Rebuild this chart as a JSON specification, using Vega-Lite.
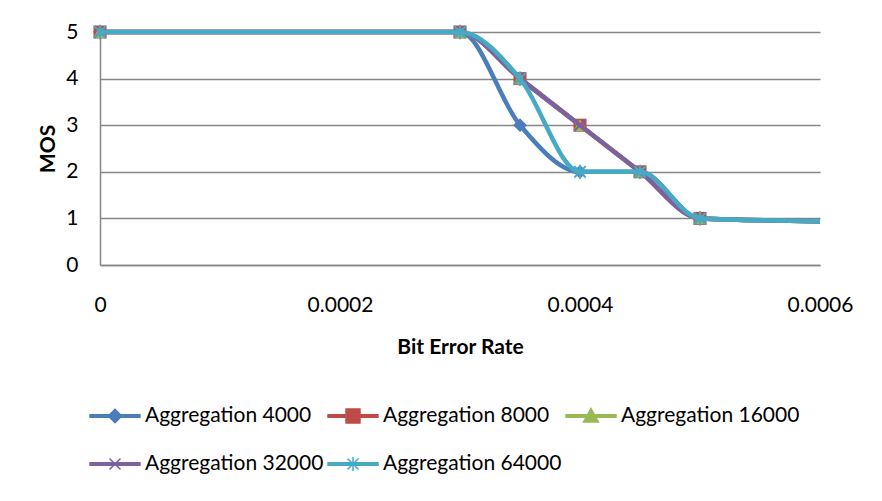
{
  "$schema": "https://vega.github.io/schema/vega-lite/v6.json",
  "width": 720,
  "height": 233,
  "autosize": {"type": "none"},
  "padding": {"left": 100, "top": 32, "right": 62, "bottom": 236},
  "background": "white",
  "data": {
    "values": [
      {"series": "Aggregation 4000", "ber": 0, "mos": 5},
      {"series": "Aggregation 4000", "ber": 0.0003, "mos": 5},
      {"series": "Aggregation 4000", "ber": 0.00035, "mos": 3},
      {"series": "Aggregation 4000", "ber": 0.0004, "mos": 2},
      {"series": "Aggregation 4000", "ber": 0.00045, "mos": 2},
      {"series": "Aggregation 4000", "ber": 0.0005, "mos": 1},
      {"series": "Aggregation 4000", "ber": 0.0006, "mos": 0.94},
      {"series": "Aggregation 8000", "ber": 0, "mos": 5},
      {"series": "Aggregation 8000", "ber": 0.0003, "mos": 5},
      {"series": "Aggregation 8000", "ber": 0.00035, "mos": 4},
      {"series": "Aggregation 8000", "ber": 0.0004, "mos": 3},
      {"series": "Aggregation 8000", "ber": 0.00045, "mos": 2},
      {"series": "Aggregation 8000", "ber": 0.0005, "mos": 1},
      {"series": "Aggregation 8000", "ber": 0.0006, "mos": 0.94},
      {"series": "Aggregation 16000", "ber": 0, "mos": 5},
      {"series": "Aggregation 16000", "ber": 0.0003, "mos": 5},
      {"series": "Aggregation 16000", "ber": 0.00035, "mos": 4},
      {"series": "Aggregation 16000", "ber": 0.0004, "mos": 3},
      {"series": "Aggregation 16000", "ber": 0.00045, "mos": 2},
      {"series": "Aggregation 16000", "ber": 0.0005, "mos": 1},
      {"series": "Aggregation 16000", "ber": 0.0006, "mos": 0.94},
      {"series": "Aggregation 32000", "ber": 0, "mos": 5},
      {"series": "Aggregation 32000", "ber": 0.0003, "mos": 5},
      {"series": "Aggregation 32000", "ber": 0.00035, "mos": 4},
      {"series": "Aggregation 32000", "ber": 0.0004, "mos": 3},
      {"series": "Aggregation 32000", "ber": 0.00045, "mos": 2},
      {"series": "Aggregation 32000", "ber": 0.0005, "mos": 1},
      {"series": "Aggregation 32000", "ber": 0.0006, "mos": 0.94},
      {"series": "Aggregation 64000", "ber": 0, "mos": 5},
      {"series": "Aggregation 64000", "ber": 0.0003, "mos": 5},
      {"series": "Aggregation 64000", "ber": 0.00035, "mos": 4},
      {"series": "Aggregation 64000", "ber": 0.0004, "mos": 2},
      {"series": "Aggregation 64000", "ber": 0.00045, "mos": 2},
      {"series": "Aggregation 64000", "ber": 0.0005, "mos": 1},
      {"series": "Aggregation 64000", "ber": 0.0006, "mos": 0.94}
    ]
  },
  "encoding": {
    "x": {
      "field": "ber", "type": "quantitative",
      "scale": {"domain": [0, 0.0006], "nice": false, "zero": false},
      "axis": {
        "title": "Bit Error Rate", "values": [0, 0.0002, 0.0004, 0.0006], "format": "~g",
        "grid": false, "ticks": false, "domain": true, "domainColor": "#868686", "domainWidth": 1.5,
        "labelFlush": false, "labelPadding": 29, "titlePadding": 21
      }
    },
    "y": {
      "field": "mos", "type": "quantitative",
      "scale": {"domain": [0, 5], "nice": false},
      "axis": {
        "title": "MOS", "values": [0, 1, 2, 3, 4, 5], "grid": true, "gridColor": "#868686", "gridWidth": 1.5,
        "ticks": false, "domain": true, "domainColor": "#868686", "domainWidth": 1.5,
        "labelPadding": 22, "titlePadding": 7
      }
    },
    "color": {
      "field": "series", "type": "nominal",
      "scale": {
        "domain": ["Aggregation 4000", "Aggregation 8000", "Aggregation 16000", "Aggregation 32000", "Aggregation 64000"],
        "range": ["#4A7EBB", "#BE4B48", "#98B954", "#7D60A0", "#46AAC5"]
      },
      "legend": {
        "title": null, "orient": "none", "legendX": -10, "legendY": 359, "direction": "horizontal", "columns": 3,
        "symbolSize": 2304, "labelFont": "Lato", "labelFontSize": 21, "labelColor": "#000000", "labelLimit": 400,
        "labelOffset": 5, "columnPadding": 1, "rowPadding": 13,
        "encode": {
          "symbols": {
            "update": {
              "fill": {"scale": "color", "field": "value"},
              "stroke": {"scale": "color", "field": "value"},
              "strokeWidth": {"value": 1.5},
              "opacity": {"value": 1},
              "fillOpacity": {"value": 1},
              "strokeOpacity": {"value": 1},
              "shape": {"signal": "datum.value === 'Aggregation 4000' ? 'M-1.04,-0.05H1.04V0.05H-1.04Z M0,-0.28L0.28,0L0,0.28L-0.28,0Z' : datum.value === 'Aggregation 8000' ? 'M-1.04,-0.05H1.04V0.05H-1.04Z M-0.29,-0.29H0.29V0.29H-0.29Z' : datum.value === 'Aggregation 16000' ? 'M-1.04,-0.05H1.04V0.05H-1.04Z M0,-0.31L0.31,0.25L-0.31,0.25Z' : datum.value === 'Aggregation 32000' ? 'M-1.04,-0.05H1.04V0.05H-1.04Z M-0.23,-0.23L0.23,0.23M-0.23,0.23L0.23,-0.23' : 'M-1.04,-0.05H1.04V0.05H-1.04Z M-0.23,-0.23L0.23,0.23M-0.23,0.23L0.23,-0.23M0,-0.29V0.29'"}
            }
          }
        }
      }
    }
  },
  "layer": [
    {"transform": [{"filter": "datum.series === 'Aggregation 4000'"}], "mark": {"type": "line", "interpolate": "monotone", "strokeWidth": 4.5, "clip": false}},
    {"transform": [{"filter": "datum.series === 'Aggregation 4000' && datum.ber < 0.00055"}], "mark": {"type": "point", "shape": "diamond", "filled": true, "size": 190, "opacity": 1}},
    {"transform": [{"filter": "datum.series === 'Aggregation 8000'"}], "mark": {"type": "line", "interpolate": "monotone", "strokeWidth": 4.5, "clip": false}},
    {"transform": [{"filter": "datum.series === 'Aggregation 8000' && datum.ber < 0.00055"}], "mark": {"type": "point", "shape": "square", "filled": true, "size": 170, "opacity": 1}},
    {"transform": [{"filter": "datum.series === 'Aggregation 16000'"}], "mark": {"type": "line", "interpolate": "monotone", "strokeWidth": 4.5, "clip": false}},
    {"transform": [{"filter": "datum.series === 'Aggregation 16000' && datum.ber < 0.00055"}], "mark": {"type": "point", "shape": "triangle-up", "filled": true, "size": 190, "opacity": 1}},
    {"transform": [{"filter": "datum.series === 'Aggregation 32000'"}], "mark": {"type": "line", "interpolate": "monotone", "strokeWidth": 4.5, "clip": false}},
    {"transform": [{"filter": "datum.series === 'Aggregation 32000' && datum.ber < 0.00055"}], "mark": {"type": "point", "shape": "M-1,-1L1,1M-1,1L1,-1", "filled": false, "strokeWidth": 2, "size": 130, "opacity": 1}},
    {"transform": [{"filter": "datum.series === 'Aggregation 64000'"}], "mark": {"type": "line", "interpolate": "monotone", "strokeWidth": 4.5, "clip": false}},
    {"transform": [{"filter": "datum.series === 'Aggregation 64000' && datum.ber < 0.00055"}], "mark": {"type": "point", "shape": "M-1,-1L1,1M-1,1L1,-1M0,-1.25V1.25", "filled": false, "strokeWidth": 2, "size": 130, "opacity": 1}}
  ],
  "config": {
    "font": "Lato",
    "view": {"stroke": null},
    "axis": {
      "labelFont": "Lato", "labelFontSize": 21, "labelColor": "#000000",
      "titleFont": "Lato", "titleFontSize": 21, "titleFontWeight": "bold", "titleColor": "#000000"
    }
  }
}
